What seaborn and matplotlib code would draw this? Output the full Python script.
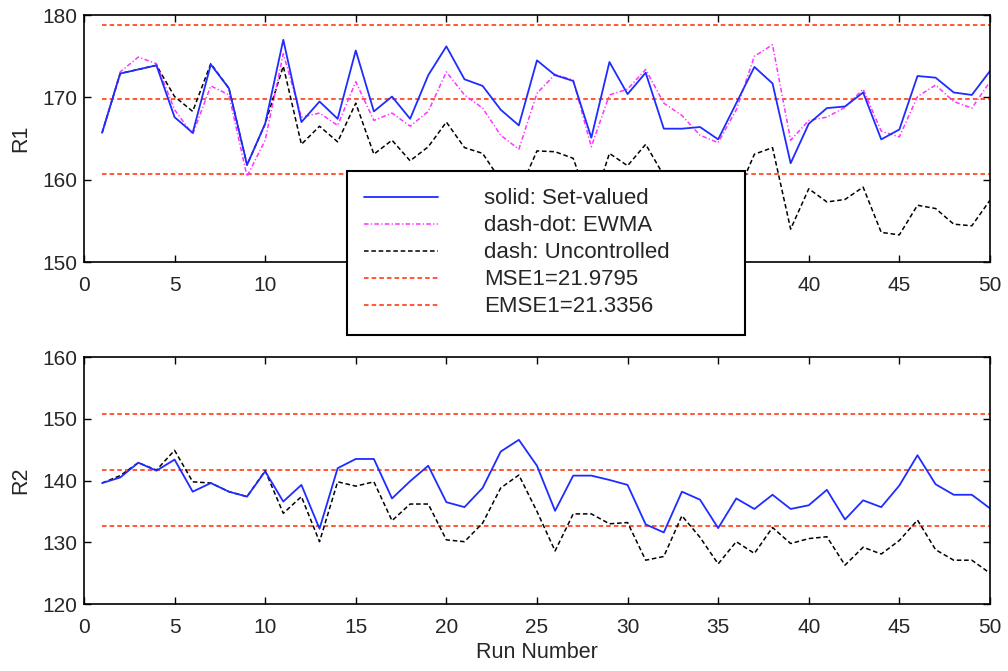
import numpy as np
import pandas as pd
import matplotlib
matplotlib.use('Agg')
import matplotlib.pyplot as plt
import seaborn as sns
from matplotlib.lines import Line2D

runs = list(range(1, 51))

r1_setvalued = [165.7, 172.9, 173.4, 173.9, 167.6, 165.7, 174.0, 171.1, 161.8, 166.8,
                177.0, 167.0, 169.5, 167.4, 175.7, 168.3, 170.1, 167.4, 172.7, 176.2,
                172.2, 171.4, 168.5, 166.6, 174.5, 172.7, 172.0, 165.1, 174.3, 170.4,
                173.0, 166.2, 166.2, 166.4, 164.9, 169.3, 173.7, 171.7, 162.0, 166.8,
                168.7, 168.9, 170.6, 164.9, 166.1, 172.6, 172.4, 170.6, 170.3, 173.2]
r1_ewma = [165.7, 173.1, 174.9, 174.1, 168.5, 165.5, 171.4, 170.3, 160.4, 164.8,
           175.3, 167.6, 168.1, 166.6, 171.9, 167.2, 168.1, 166.5, 168.3, 173.1,
           170.3, 168.7, 165.4, 163.7, 170.5, 172.8, 172.1, 164.0, 170.3, 171.0,
           173.4, 169.3, 167.8, 165.4, 164.5, 168.5, 175.0, 176.4, 164.8, 167.2,
           167.6, 168.8, 171.0, 165.9, 165.2, 170.1, 171.5, 169.5, 168.7, 171.9]
r1_uncontrolled = [165.7, 172.9, 173.4, 173.9, 170.1, 168.3, 174.1, 171.1, 161.8, 166.8,
                   173.8, 164.3, 166.5, 164.6, 169.3, 163.1, 164.8, 162.3, 164.0, 167.0,
                   163.9, 163.2, 159.9, 158.5, 163.5, 163.4, 162.6, 156.4, 163.2, 161.7,
                   164.3, 160.5, 159.5, 158.0, 156.5, 158.0, 163.1, 163.9, 154.0, 158.9,
                   157.3, 157.6, 159.1, 153.6, 153.3, 156.9, 156.5, 154.6, 154.4, 157.5]

r2_setvalued = [139.6, 140.5, 142.9, 141.6, 143.4, 138.2, 139.6, 138.2, 137.4, 141.5,
                136.6, 139.3, 132.2, 142.0, 143.5, 143.5, 137.1, 139.9, 142.4, 136.5,
                135.7, 138.8, 144.7, 146.6, 142.4, 135.1, 140.8, 140.8, 140.1, 139.3,
                132.9, 131.6, 138.2, 136.9, 132.3, 137.1, 135.4, 137.7, 135.4, 136.0,
                138.5, 133.7, 136.8, 135.7, 139.2, 144.1, 139.4, 137.7, 137.7, 135.5]
r2_uncontrolled = [139.6, 140.8, 142.9, 141.7, 144.9, 139.8, 139.6, 138.2, 137.4, 141.6,
                   134.7, 137.4, 130.1, 139.8, 139.1, 139.8, 133.5, 136.2, 136.2, 130.4,
                   130.1, 133.1, 138.8, 140.9, 135.0, 128.6, 134.6, 134.6, 133.0, 133.2,
                   127.1, 127.7, 134.3, 130.8, 126.5, 130.1, 128.2, 132.4, 129.8, 130.6,
                   130.9, 126.3, 129.2, 128.1, 130.3, 133.6, 128.8, 127.1, 127.1, 125.0]

r1_limits = [160.7, 169.75, 178.8]
r2_limits = [132.65, 141.75, 150.8]

legend_labels = ['solid: Set-valued', 'dash-dot: EWMA', 'dash: Uncontrolled',
                 'MSE1=21.9795', 'EMSE1=21.3356']

blue = '#1f2cff'
magenta = '#ff33ff'
red = '#ff2a00'
dash_black = (0, (3, 1.8))
dash_red = (0, (3, 2))
dash_dot = (0, (3, 1.5, 0.8, 1.5))

sns.set_style('ticks')
plt.rcParams['font.family'] = ['Liberation Sans', 'DejaVu Sans']
plt.rcParams['font.size'] = 15

df1 = pd.DataFrame({'run': runs, 'set': r1_setvalued, 'ewma': r1_ewma, 'unc': r1_uncontrolled})
df2 = pd.DataFrame({'run': runs, 'set': r2_setvalued, 'unc': r2_uncontrolled})

fig = plt.figure(figsize=(10.08, 6.71), dpi=100)
ax1 = fig.add_axes([0.0833, 0.6095, 0.8988, 0.368])
ax2 = fig.add_axes([0.0833, 0.0998, 0.8988, 0.368])


def style_axis(ax, ylim, yticks, ylabel):
    ax.set_xlim(0, 50)
    ax.set_ylim(*ylim)
    ax.set_xticks(range(0, 51, 5))
    ax.set_yticks(yticks)
    ax.tick_params(direction='in', top=True, right=True, length=5, width=1,
                   labelsize=15, color='black')
    ax.tick_params(axis='x', pad=10)
    ax.tick_params(axis='y', pad=5)
    for s in ax.spines.values():
        s.set_visible(True)
        s.set_linewidth(1.2)
        s.set_color('black')
    ax.set_ylabel(ylabel, fontsize=15.5, labelpad=8)
    ax.set_xlabel('')


ax1.hlines(r1_limits, runs[0], runs[-1], colors=red, linestyles=dash_red, linewidth=1.1)
sns.lineplot(data=df1, x='run', y='unc', ax=ax1, color='black', linewidth=1.1,
             linestyle=dash_black)
sns.lineplot(data=df1, x='run', y='ewma', ax=ax1, color=magenta, linewidth=1.1,
             linestyle=dash_dot)
sns.lineplot(data=df1, x='run', y='set', ax=ax1, color=blue, linewidth=1.3)
style_axis(ax1, (150, 180), [150, 160, 170, 180], 'R1')
# the legend box sits over these tick labels in the original
ax1.set_xticklabels(['0', '5', '10', '', '', '', '', '', '40', '45', '50'])

ax2.hlines(r2_limits, runs[0], runs[-1], colors=red, linestyles=dash_red, linewidth=1.1)
sns.lineplot(data=df2, x='run', y='unc', ax=ax2, color='black', linewidth=1.1,
             linestyle=dash_black)
sns.lineplot(data=df2, x='run', y='set', ax=ax2, color=blue, linewidth=1.3)
style_axis(ax2, (120, 160), [120, 130, 140, 150, 160], 'R2')
ax2.set_xlabel('Run Number', fontsize=15.5, labelpad=4)

handles = [
    Line2D([], [], color=blue, linewidth=1.3),
    Line2D([], [], color=magenta, linewidth=1.1, linestyle=dash_dot),
    Line2D([], [], color='black', linewidth=1.1, linestyle=dash_black),
    Line2D([], [], color=red, linewidth=1.1, linestyle=dash_red),
    Line2D([], [], color=red, linewidth=1.1, linestyle=dash_red),
]
leg = ax1.legend(handles, legend_labels, loc='upper left', mode='expand',
                 bbox_to_anchor=(0.2903, 0.2684, 0.4393, 0.1), fontsize=16,
                 frameon=True, fancybox=False, framealpha=1, edgecolor='black',
                 handlelength=3.3, handletextpad=2.1, labelspacing=0.27,
                 borderpad=0.78, borderaxespad=0)
leg.get_frame().set_linewidth(1.5)
leg.set_zorder(10)

fig.savefig('out.png', dpi=100)
